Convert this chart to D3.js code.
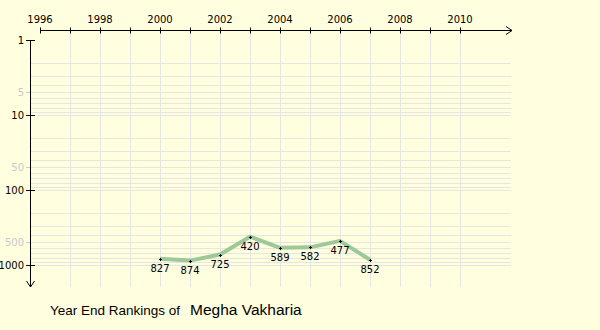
<!DOCTYPE html>
<html>
<head>
<meta charset="utf-8">
<script src="https://cdn.jsdelivr.net/npm/d3@7"></script>
<style>
  html, body { margin: 0; padding: 0; background: #ffffe0; }
  svg { display: block; }
</style>
</head>
<body>
<svg id="chart" width="600" height="330"></svg>
<script>
// Year-end ranking per season
const years = [2000, 2001, 2002, 2003, 2004, 2005, 2006, 2007];
const ranks = [827, 874, 725, 420, 589, 582, 477, 852];

// Axis labels
const yearLabels = [1996, 1998, 2000, 2002, 2004, 2006, 2008, 2010];
const yearTicks = d3.range(1996, 2011);
const gridYears = d3.range(1997, 2011);
const majorRanks = [1, 10, 100, 1000];
const minorRanks = [5, 50, 500];

const playerName = "Megha Vakharia";
const titlePrefix = "Year End Rankings of";

const svg = d3.select("#chart");
const x = d3.scaleLinear().domain([1996, 2010]).range([40, 460]);
const y = d3.scaleLog().domain([1, 1000]).range([40, 265]);

const axisFont = "DejaVu Sans, Verdana, sans-serif";
const gridColor = "#e6e6e0";
const xAxisY = 30.5, yAxisX = 30.5, gridRight = 511, gridBottom = 287;

// Horizontal log gridlines (2..9 per decade, up to 1000)
const gridRanks = [];
for (let dec = 1; dec <= 100; dec *= 10) {
  for (let m = 2; m <= 10; m++) gridRanks.push(m * dec);
}
svg.append("g").selectAll("line").data(gridRanks).join("line")
  .attr("x1", yAxisX).attr("x2", gridRight)
  .attr("y1", d => Math.round(y(d)) + 0.5).attr("y2", d => Math.round(y(d)) + 0.5)
  .attr("stroke", gridColor).attr("stroke-width", 1);

// Vertical gridlines per year
svg.append("g").selectAll("line").data(gridYears).join("line")
  .attr("x1", d => x(d) + 0.5).attr("x2", d => x(d) + 0.5)
  .attr("y1", xAxisY).attr("y2", gridBottom)
  .attr("stroke", gridColor).attr("stroke-width", 1);

// Top x axis with arrow
const xAxis = svg.append("g");
xAxis.append("line")
  .attr("x1", x(1996)).attr("x2", 512)
  .attr("y1", xAxisY).attr("y2", xAxisY)
  .attr("stroke", "#000");
xAxis.append("path")
  .attr("d", `M506,${xAxisY - 4}L512,${xAxisY}L506,${xAxisY + 4}`)
  .attr("fill", "none").attr("stroke", "#000");
xAxis.selectAll("line.tick").data(yearTicks).join("line")
  .attr("class", "tick")
  .attr("x1", d => x(d) + 0.5).attr("x2", d => x(d) + 0.5)
  .attr("y1", xAxisY - 3).attr("y2", xAxisY + 3)
  .attr("stroke", "#000");
xAxis.selectAll("text").data(yearLabels).join("text")
  .attr("x", d => x(d)).attr("y", 23)
  .attr("text-anchor", "middle")
  .attr("font-family", axisFont).attr("font-size", 10)
  .attr("fill", "#000")
  .text(d => d);

// Left y axis with downward arrow
const yAxis = svg.append("g");
yAxis.append("line")
  .attr("x1", yAxisX).attr("x2", yAxisX)
  .attr("y1", y(1)).attr("y2", gridBottom)
  .attr("stroke", "#000");
yAxis.append("path")
  .attr("d", `M${yAxisX - 4},${gridBottom - 6}L${yAxisX},${gridBottom}L${yAxisX + 4},${gridBottom - 6}`)
  .attr("fill", "none").attr("stroke", "#000");
yAxis.selectAll("line.major").data(majorRanks).join("line")
  .attr("class", "major")
  .attr("x1", 26).attr("x2", 35)
  .attr("y1", d => Math.round(y(d)) + 0.5).attr("y2", d => Math.round(y(d)) + 0.5)
  .attr("stroke", "#000");
yAxis.selectAll("line.minor").data(minorRanks).join("line")
  .attr("class", "minor")
  .attr("x1", 26).attr("x2", 30)
  .attr("y1", d => Math.round(y(d)) + 0.5).attr("y2", d => Math.round(y(d)) + 0.5)
  .attr("stroke", "#ccc");
yAxis.selectAll("text.major").data(majorRanks).join("text")
  .attr("class", "major")
  .attr("x", 24).attr("y", d => y(d) + 4)
  .attr("text-anchor", "end")
  .attr("font-family", axisFont).attr("font-size", 10)
  .attr("fill", "#000")
  .text(d => d);
yAxis.selectAll("text.minor").data(minorRanks).join("text")
  .attr("class", "minor")
  .attr("x", 24).attr("y", d => y(d) + 4)
  .attr("text-anchor", "end")
  .attr("font-family", axisFont).attr("font-size", 10)
  .attr("fill", "#c8c8c8")
  .text(d => d);

// Ranking line
const pts = years.map((yr, i) => ({ year: yr, rank: ranks[i] }));
svg.append("path")
  .datum(pts)
  .attr("d", d3.line().x(d => x(d.year)).y(d => y(d.rank)))
  .attr("fill", "none")
  .attr("stroke", "#9dc897")
  .attr("stroke-width", 4)
  .attr("stroke-linejoin", "round");

// Point markers
svg.append("g").selectAll("path").data(pts).join("path")
  .attr("d", d => {
    const cx = Math.round(x(d.year)) + 0.5, cy = Math.round(y(d.rank)) + 0.5;
    return `M${cx - 1.5},${cy}H${cx + 1.5}M${cx},${cy - 1.5}V${cy + 1.5}`;
  })
  .attr("stroke", "#000").attr("stroke-width", 1);

// Value labels under each point
svg.append("g").selectAll("text").data(pts).join("text")
  .attr("x", d => x(d.year)).attr("y", d => y(d.rank) + 13)
  .attr("text-anchor", "middle")
  .attr("font-family", axisFont).attr("font-size", 10)
  .attr("fill", "#000")
  .text(d => d.rank);

// Title
const title = svg.append("text")
  .attr("x", 50).attr("y", 315)
  .attr("font-family", "Liberation Sans, Arial, sans-serif")
  .attr("fill", "#000");
title.append("tspan").attr("font-size", 13.5).text(titlePrefix + " ");
title.append("tspan").attr("x", 190).attr("font-size", 15.5).text(playerName);
</script>
</body>
</html>
